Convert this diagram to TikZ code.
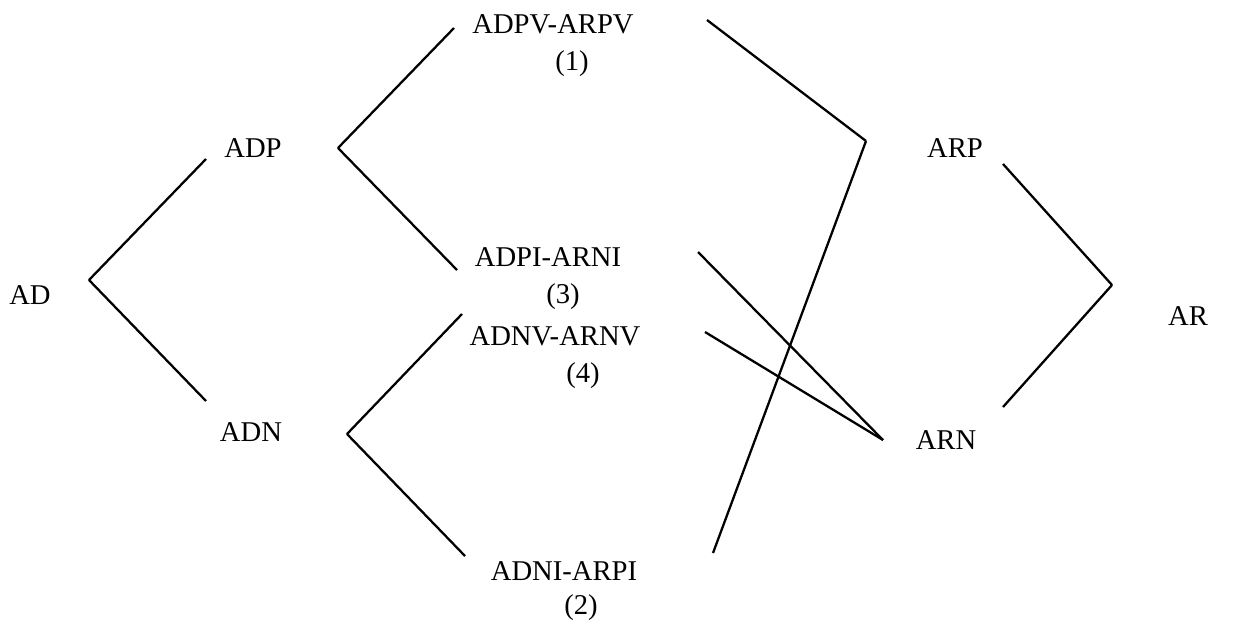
\documentclass[tikz,border=0pt]{standalone}
\usepackage{fontspec}
\setmainfont{Liberation Serif}
\usetikzlibrary{positioning}

\begin{document}
\begin{tikzpicture}[x=0.02cm, y=-0.02cm,
    term/.style={inner sep=0pt, font=\fontsize{16.3}{19}\selectfont},
    link/.style={line width=1.3pt}]

    \useasboundingbox (0,0) rectangle (1240,619);

    % left side
    \node[term] (ad)  at (30,295)  {AD};
    \node[term] (adp) at (253,148) {ADP};
    \node[term] (adn) at (251,432) {ADN};

    % middle pairs with their numbers
    \node[term] (adpv) at (553,24)  {ADPV-ARPV};
    \node[term] (n1)   at (572,64)  {(1)};
    \node[term] (adpi) at (548,257) {ADPI-ARNI};
    \node[term] (n3)   at (563,297) {(3)};
    \node[term] (adnv) at (555,336) {ADNV-ARNV};
    \node[term] (n4)   at (583,376) {(4)};
    \node[term] (adni) at (564,571) {ADNI-ARPI};
    \node[term] (n2)   at (581,608) {(2)};

    % right side
    \node[term] (arp) at (955,148)  {ARP};
    \node[term] (arn) at (946,440)  {ARN};
    \node[term] (ar)  at (1188,316) {AR};

    % line ends
    \coordinate (ad-r)   at (89,280);
    \coordinate (adp-l)  at (206,159);
    \coordinate (adp-r)  at (338,148);
    \coordinate (adn-l)  at (206,401);
    \coordinate (adn-r)  at (347,434);
    \coordinate (adpv-l) at (454,28);
    \coordinate (adpv-r) at (707,20);
    \coordinate (adpi-l) at (457,270);
    \coordinate (adpi-r) at (698,252);
    \coordinate (adnv-l) at (462,314);
    \coordinate (adnv-r) at (705,332);
    \coordinate (adni-l) at (465,556);
    \coordinate (adni-r) at (713,553);
    \coordinate (arp-l)  at (866,141);
    \coordinate (arp-r)  at (1003,164);
    \coordinate (arn-l)  at (883,440);
    \coordinate (arn-r)  at (1003,407);
    \coordinate (ar-l)   at (1112,285);

    \draw[link] (ad-r) -- (adp-l);
    \draw[link] (ad-r) -- (adn-l);

    \draw[link] (adp-r) -- (adpv-l);
    \draw[link] (adp-r) -- (adpi-l);
    \draw[link] (adn-r) -- (adnv-l);
    \draw[link] (adn-r) -- (adni-l);

    \draw[link] (adpv-r) -- (arp-l);
    \draw[link] (adni-r) -- (arp-l);
    \draw[link] (adpi-r) -- (arn-l);
    \draw[link] (adnv-r) -- (arn-l);

    \draw[link] (arp-r) -- (ar-l);
    \draw[link] (arn-r) -- (ar-l);

\end{tikzpicture}
\end{document}
